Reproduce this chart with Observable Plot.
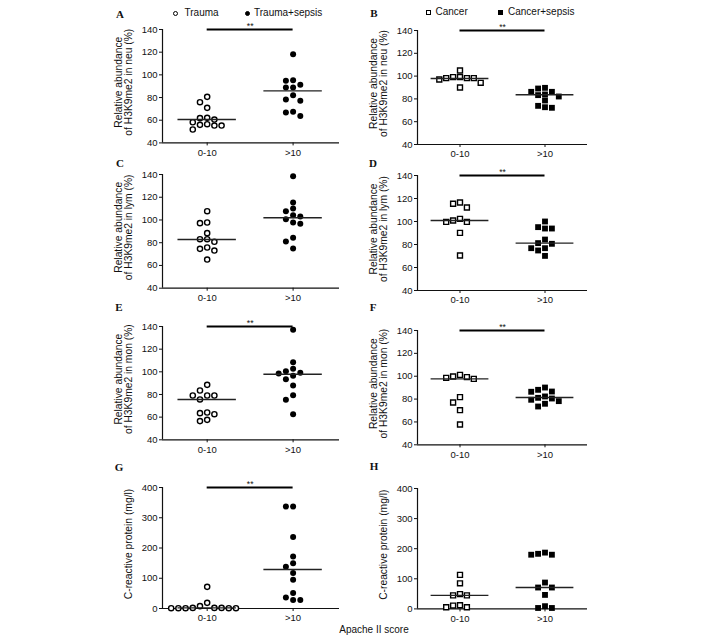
<!DOCTYPE html>
<html>
<head>
<meta charset="utf-8">
<script src="https://cdn.jsdelivr.net/npm/d3@7"></script>
<script src="https://cdn.jsdelivr.net/npm/@observablehq/plot@0.6"></script>
<style>
  body { margin: 0; background: #fff; }
  #fig { position: relative; width: 708px; height: 640px; background: #fff; overflow: hidden;
         font-family: "Liberation Sans", Arial, sans-serif; color: #111; }
  .lbl { position: absolute; white-space: nowrap; line-height: 1; }
  .letter { font-family: "Liberation Serif", "Times New Roman", serif; font-weight: bold; font-size: 11px; }
  .leg { font-size: 10px; }
  .sym { position: absolute; box-sizing: border-box; }
</style>
</head>
<body>
<div id="fig"></div>
<script>
// ---------------- DATA ----------------
const categories = ["0-10", ">10"];
const pctTicks = [40, 60, 80, 100, 120, 140];
const crpTicks = [0, 100, 200, 300, 400];

const neuTrauma        = [80.6, 75.9, 70.9, 62.1, 61.8, 60.6, 58.2, 56.5, 55.9, 55.3, 55.3, 51.8];
const neuTraumaSepsis  = [118.2, 95.3, 94.7, 91.2, 88.8, 88.8, 82.1, 78.2, 77.1, 67.4, 66.8, 63.8];
const neuCancer        = [104.9, 99.1, 99.1, 98.2, 98.2, 98.2, 97.0, 94.1, 90.0];
const neuCancerSepsis  = [89.7, 89.1, 86.2, 86.2, 83.9, 83.3, 82.1, 78.6, 73.9, 72.7, 72.2];

const lymTrauma        = [107.7, 97.8, 97.2, 88.4, 83.1, 83.1, 80.8, 75.8, 74.6, 73.1, 65.2];
const lymTraumaSepsis  = [138.5, 115.4, 110.1, 107.7, 104.2, 103.0, 100.7, 97.8, 96.6, 84.3, 81.1, 74.9];
const lymCancer        = [116.5, 115.4, 112.2, 102.3, 100.9, 99.7, 99.7, 90.1, 70.4];
const lymCancerSepsis  = [100.0, 95.1, 93.9, 93.9, 84.3, 81.2, 80.6, 76.8, 76.8, 74.8, 70.1];

const monTrauma        = [88.5, 83.5, 79.1, 79.1, 79.1, 75.6, 64.1, 63.5, 62.6, 57.6, 56.5];
const monTraumaSepsis  = [137.1, 108.5, 102.6, 100.6, 99.1, 98.5, 96.5, 93.5, 87.9, 79.4, 75.3, 62.6];
const monCancer        = [101.2, 99.8, 99.2, 98.6, 97.7, 81.7, 77.0, 70.3, 57.8];
const monCancerSepsis  = [90.1, 88.1, 86.6, 86.4, 82.3, 81.1, 80.5, 79.4, 78.2, 75.9, 73.5];

const crpTrauma        = [71.6, 18.7, 7.7, 2, 2, 2, 1, 1, 1, 1, 1];
const crpTraumaSepsis  = [337, 337, 236, 172, 150, 138, 117, 95, 51, 36, 28, 28];
const crpCancer        = [113, 85, 49, 45, 45, 12, 11, 5.5, 5.5];
const crpCancerSepsis  = [187, 183, 180, 180, 87.5, 71, 71, 46.5, 9, 3, 3];

const medNeuTrauma = [60.6, 85.9], medNeuCancer = [97.9, 83.6];
const medLymTrauma = [82.8, 101.9], medLymCancer = [100.9, 81.2];
const medMonTrauma = [75.6, 97.9], medMonCancer = [97.7, 81.4];
const medCrpTrauma = [2, 129],     medCrpCancer = [45, 71];

const significantPanels = ["A", "B", "D", "E", "F", "G"];
const legendTrauma = ["Trauma", "Trauma+sepsis"];
const legendCancer = ["Cancer", "Cancer+sepsis"];
const xTitle = "Apache II score";

// ---------------- LAYOUT ----------------
const fig = document.getElementById("fig");
const colGeom = [
  {frameLeft: 161.5, frameW: 177, xDomain: [-0.52, 1.54]},
  {frameLeft: 416.7, frameW: 170, xDomain: [-0.5, 1.5]}
];
const lab = (cell) => "Relative abundance\nof H3K9me2 in " + cell + " (%)";
const panels = [
  {id: "A", col: 0, top: 29.3, h: 113.4, groups: [neuTrauma, neuTraumaSepsis], med: medNeuTrauma, sym: "circle", yDomain: [40, 140], ticks: pctTicks, label: lab("neu"), letter: [120, 13.5]},
  {id: "B", col: 1, top: 30.0, h: 114.0, groups: [neuCancer, neuCancerSepsis], med: medNeuCancer, sym: "square", yDomain: [40, 140], ticks: pctTicks, label: lab("neu"), letter: [374, 13]},
  {id: "C", col: 0, top: 174.0, h: 113.7, groups: [lymTrauma, lymTraumaSepsis], med: medLymTrauma, sym: "circle", yDomain: [40, 140], ticks: pctTicks, label: lab("lym"), letter: [120, 163]},
  {id: "D", col: 1, top: 175.0, h: 115.0, groups: [lymCancer, lymCancerSepsis], med: medLymCancer, sym: "square", yDomain: [40, 140], ticks: pctTicks, label: lab("lym"), letter: [373, 163]},
  {id: "E", col: 0, top: 325.7, h: 113.3, groups: [monTrauma, monTraumaSepsis], med: medMonTrauma, sym: "circle", yDomain: [40, 140], ticks: pctTicks, label: lab("mon"), letter: [119, 307]},
  {id: "F", col: 1, top: 330.0, h: 114.3, groups: [monCancer, monCancerSepsis], med: medMonCancer, sym: "square", yDomain: [40, 140], ticks: pctTicks, label: lab("mon"), letter: [373, 307]},
  {id: "G", col: 0, top: 486.7, h: 121.0, groups: [crpTrauma, crpTraumaSepsis], med: medCrpTrauma, sym: "circle", yDomain: [0, 400], ticks: crpTicks, label: "C-reactive protein (mg/l)", letter: [119, 467]},
  {id: "H", col: 1, top: 488.3, h: 120.4, groups: [crpCancer, crpCancerSepsis], med: medCrpCancer, sym: "square", yDomain: [0, 400], ticks: crpTicks, label: "C-reactive protein (mg/l)", letter: [374, 466]}
];

const mL = 60, mR = 4, mT = 14, mB = 24;
const GAP = 5.8; // vertical clearance (px) inside a column

// column spreading (scatter-dot layout computed from the values)
function spreadColumns(values, pxPerUnit) {
  const order = d3.range(values.length).sort((a, b) => values[b] - values[a]);
  const placed = [];
  const cols = new Array(values.length);
  for (const i of order) {
    const py = values[i] * pxPerUnit;
    for (let k = 0; k < 40; k++) {
      const c = k === 0 ? 0 : (k % 2 ? -Math.ceil(k / 2) : Math.ceil(k / 2));
      if (!placed.some(p => p.c === c && Math.abs(p.py - py) < GAP)) {
        placed.push({c, py}); cols[i] = c; break;
      }
    }
  }
  return cols;
}

function addText(txt, x, y, cls, anchorX = "-50%") {
  const d = document.createElement("div");
  d.className = "lbl " + cls;
  d.textContent = txt;
  d.style.left = x + "px";
  d.style.top = y + "px";
  d.style.transform = `translate(${anchorX}, -50%)`;
  fig.appendChild(d);
  return d;
}
function addSym(x, y, size, shape, filled) {
  const s = document.createElement("div");
  s.className = "sym";
  s.style.left = (x - size / 2) + "px";
  s.style.top = (y - size / 2) + "px";
  s.style.width = size + "px";
  s.style.height = size + "px";
  s.style.border = "1.4px solid #000";
  s.style.background = filled ? "#000" : "#fff";
  if (shape === "circle") s.style.borderRadius = "50%";
  fig.appendChild(s);
}

for (const p of panels) {
  const g = colGeom[p.col];
  const width = mL + g.frameW + mR;
  const height = mT + p.h + mB;
  const pxY = p.h / (p.yDomain[1] - p.yDomain[0]);
  const pxX = g.frameW / (g.xDomain[1] - g.xDomain[0]);
  const stepPx = p.sym === "circle" ? 7.2 : 6.9;
  const rows = [];
  p.groups.forEach((vals, gi) => {
    const cols = spreadColumns(vals, pxY);
    vals.forEach((v, i) => rows.push({g: gi, v, x: gi + cols[i] * stepPx / pxX}));
  });
  const open = rows.filter(d => d.g === 0);
  const filled = rows.filter(d => d.g === 1);
  const isCircle = p.sym === "circle";
  const sig = significantPanels.includes(p.id);
  const yMin = p.yDomain[0], yMax = p.yDomain[1];
  const xMin = g.xDomain[0];

  const marks = [
    Plot.ruleY([yMin], {stroke: "#111", strokeWidth: 1.2}),
    Plot.ruleX([xMin], {y1: () => yMin, y2: () => yMax, stroke: "#111", strokeWidth: 1.2}),
    Plot.axisY(p.ticks, {tickSize: 3, tickPadding: 2, fontSize: 9.5, label: null, stroke: "#111"}),
    Plot.axisX([0, 1], {tickFormat: i => categories[i], tickSize: 3, tickPadding: 3, fontSize: 9.5, label: null}),
    Plot.text([p.label], {text: d => d, frameAnchor: "left", textAnchor: "middle", lineAnchor: "middle",
      rotate: -90, dx: p.label.includes("\n") ? -39 : -34, dy: -4, fontSize: 10.3, lineHeight: 1.0, fill: "#111"}),
    Plot.dot(open, {x: "x", y: "v", symbol: p.sym, r: isCircle ? 2.6 : 2.8, fill: "#fff", stroke: "#000", strokeWidth: 1.4}),
    Plot.dot(filled, {x: "x", y: "v", symbol: p.sym, r: isCircle ? 3.0 : 3.3, fill: "#000", stroke: "none"}),
    Plot.ruleY(p.med, {y: d => d, x1: (d, i) => i - 0.34, x2: (d, i) => i + 0.34, stroke: "#222", strokeWidth: 1.4})
  ];
  if (sig) {
    marks.push(Plot.ruleY([yMax], {x1: () => 0, x2: () => 1, stroke: "#000", strokeWidth: 1.8}));
    marks.push(Plot.text(["**"], {text: d => d, x: () => 0.5, y: () => yMax, dy: -3, fontSize: 8.5, fill: "#111"}));
  }

  const svg = Plot.plot({
    width, height,
    marginLeft: mL, marginRight: mR, marginTop: mT, marginBottom: mB,
    x: {domain: g.xDomain},
    y: {domain: p.yDomain},
    style: {fontFamily: "'Liberation Sans', Arial, sans-serif", fontSize: "9.5px", background: "transparent", overflow: "visible", color: "#111"},
    marks
  });
  svg.style.position = "absolute";
  svg.style.left = (g.frameLeft - mL) + "px";
  svg.style.top = (p.top - mT) + "px";
  fig.appendChild(svg);

  addText(p.id, p.letter[0], p.letter[1], "letter");
}

// legends
addSym(175.7, 13.3, 5.5, "circle", false);
addText(legendTrauma[0], 184.5, 13.3, "leg", "0");
addSym(247.7, 13.3, 5.5, "circle", true);
addText(legendTrauma[1], 254, 13.3, "leg", "0");
addSym(428.5, 12.3, 5.5, "square", false);
addText(legendCancer[0], 435.5, 12.3, "leg", "0");
addSym(500, 12.3, 5, "square", true);
addText(legendCancer[1], 508, 12.3, "leg", "0");

// shared x title
addText(xTitle, 374, 630, "leg");
</script>
</body>
</html>
